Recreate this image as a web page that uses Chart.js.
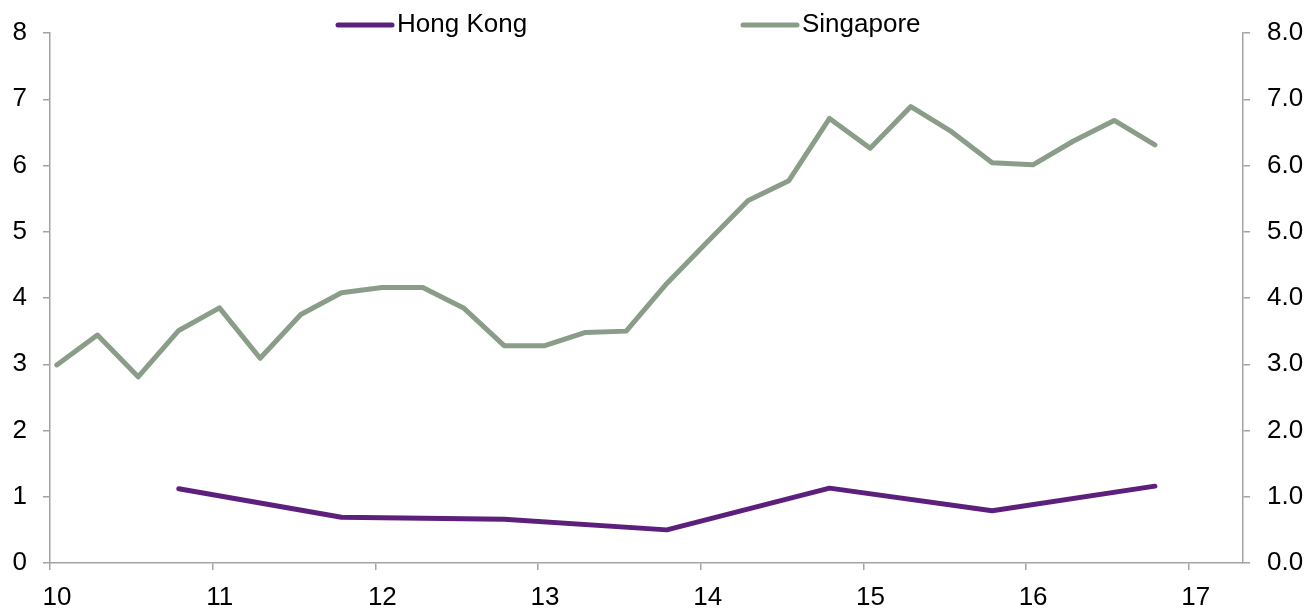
<!DOCTYPE html>
<html>
<head>
<meta charset="utf-8">
<script src="https://cdn.jsdelivr.net/npm/chart.js@4.4.0/dist/chart.umd.min.js"></script>
<style>
  html, body { margin: 0; padding: 0; background: #fff; }
  #wrap { width: 1309px; height: 608px; position: relative; }
</style>
</head>
<body>
<div id="wrap"><canvas id="mychart"></canvas></div>
<script>
// data -----------------------------------------------------------------
var sgDates = ['2010-01','2010-04','2010-07','2010-10','2011-01','2011-04','2011-07','2011-10',
               '2012-01','2012-04','2012-07','2012-10','2013-01','2013-04','2013-07','2013-10',
               '2014-01','2014-04','2014-07','2014-10','2015-01','2015-04','2015-07','2015-10',
               '2016-01','2016-04','2016-07','2016-10'];
var sgValues = [2.99, 3.44, 2.81, 3.51, 3.85, 3.09, 3.75, 4.08,
                4.16, 4.16, 3.85, 3.28, 3.28, 3.48, 3.50, 4.22,
                4.85, 5.47, 5.77, 6.71, 6.26, 6.89, 6.51, 6.04,
                6.01, 6.37, 6.68, 6.31];
var hkDates = ['2010-10','2011-10','2012-10','2013-10','2014-10','2015-10','2016-10'];
var hkValues = [1.12, 0.69, 0.66, 0.50, 1.13, 0.79, 1.16];
var yearTicks = [10, 11, 12, 13, 14, 15, 16, 17];
var leftTicks = [0, 1, 2, 3, 4, 5, 6, 7, 8];
var rightTicks = ['0.0','1.0','2.0','3.0','4.0','5.0','6.0','7.0','8.0'];

var hkColor = '#5c1f7c';
var sgColor = '#8a9d89';
var axisColor = '#a3a3a3';
var font = 'Liberation Sans, Arial, sans-serif';

// '2010-01' -> 10.04 (middle of the month, two digit year)
function toYear(s) {
  var p = s.split('-');
  return parseInt(p[0], 10) - 2000 + (parseInt(p[1], 10) - 0.5) / 12;
}
function points(dates, vals) {
  return dates.map(function(d, i) { return { x: toYear(d), y: vals[i] }; });
}

// legend drawn by hand, Excel style with the big gap
var legendPlugin = {
  id: 'topLegend',
  afterDraw: function(chart) {
    var ctx = chart.ctx;
    var items = [
      { text: 'Hong Kong', color: hkColor, x: 338 },
      { text: 'Singapore', color: sgColor, x: 743 }
    ];
    ctx.save();
    ctx.font = '26px ' + font;
    ctx.textBaseline = 'middle';
    ctx.fillStyle = '#000';
    items.forEach(function(it) {
      ctx.strokeStyle = it.color;
      ctx.lineWidth = 5;
      ctx.lineCap = 'round';
      ctx.beginPath();
      ctx.moveTo(it.x, 25);
      ctx.lineTo(it.x + 54, 25);
      ctx.stroke();
      ctx.fillText(it.text, it.x + 59, 25);
    });
    ctx.restore();
  }
};

function axisGrid() {
  return { drawOnChartArea: false, drawTicks: true, tickLength: 7, color: axisColor, lineWidth: 1.5 };
}

var mychart = document.getElementById('mychart').getContext('2d');
var lineChart = new Chart(mychart, {
  type: 'line',
  data: {
    datasets: [{
      label: 'Hong Kong',
      data: points(hkDates, hkValues),
      borderColor: hkColor,
      borderWidth: 5,
      borderCapStyle: 'round',
      borderJoinStyle: 'round',
      pointRadius: 0,
      tension: 0,
      yAxisID: 'y2'
    }, {
      label: 'Singapore',
      data: points(sgDates, sgValues),
      borderColor: sgColor,
      borderWidth: 5,
      borderCapStyle: 'round',
      borderJoinStyle: 'round',
      pointRadius: 0,
      tension: 0,
      yAxisID: 'y'
    }]
  },
  plugins: [legendPlugin],
  options: {
    responsive: true,
    maintainAspectRatio: false,
    animation: false,
    events: [],
    layout: { padding: { top: 33, left: 0, right: 0, bottom: 0 } },
    plugins: { legend: { display: false }, tooltip: { enabled: false } },
    scales: {
      x: {
        type: 'linear',
        min: yearTicks[0],
        max: 17 + 4 / 12,
        afterFit: function(s) { s.height = 45; },
        afterBuildTicks: function(s) { s.ticks = yearTicks.map(function(v) { return { value: v }; }); },
        border: { display: true, color: axisColor, width: 1.5 },
        grid: axisGrid(),
        ticks: {
          autoSkip: false, maxRotation: 0, labelOffset: 7, padding: 12,
          color: '#000', font: { family: font, size: 26 }
        }
      },
      y: {
        position: 'left',
        min: 0, max: 8,
        afterFit: function(s) { s.width = 50; },
        afterBuildTicks: function(s) { s.ticks = leftTicks.map(function(v) { return { value: v }; }); },
        border: { display: true, color: axisColor, width: 1.5 },
        grid: axisGrid(),
        ticks: { padding: 16, color: '#000', font: { family: font, size: 26 } }
      },
      y2: {
        position: 'right',
        min: 0, max: 8,
        afterFit: function(s) { s.width = 66; },
        afterBuildTicks: function(s) { s.ticks = leftTicks.map(function(v) { return { value: v }; }); },
        border: { display: true, color: axisColor, width: 1.5 },
        grid: axisGrid(),
        ticks: {
          padding: 17, color: '#000', font: { family: font, size: 26 },
          callback: function(v, i) { return rightTicks[i]; }
        }
      }
    }
  }
});
</script>
</body>
</html>
